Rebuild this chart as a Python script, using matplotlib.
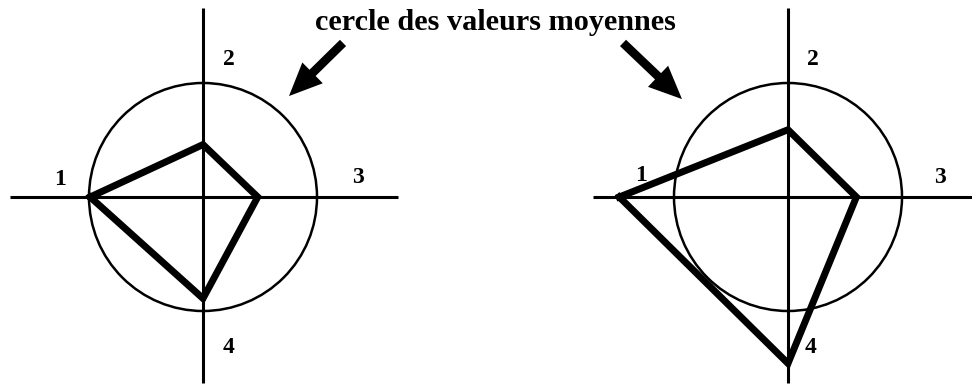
import matplotlib
matplotlib.use("Agg")
import matplotlib.pyplot as plt
import numpy as np
from matplotlib.patches import Circle, FancyArrowPatch

# Data: values on the 4 axes, in units of the mean value (circle radius = 1)
axis_labels = ["1", "2", "3", "4"]
left_values = [0.99, 0.46, 0.48, 0.89]
right_values = [1.48, 0.59, 0.60, 1.46]
annotation_text = "cercle des valeurs moyennes"

W, H = 972, 387
DPI = 100
fig = plt.figure(figsize=(W / DPI, H / DPI), dpi=DPI)
fig.patch.set_facecolor("white")

S = 114.0  # pixels per unit


def draw_diagram(x0, x1, cx, cy, values, xl, xr, yt, yb, label_pos):
    ax = fig.add_axes([x0 / W, 0, (x1 - x0) / W, 1])
    ax.set_xlim((x0 - cx) / S, (x1 - cx) / S)
    ax.set_ylim(-(H - cy) / S, cy / S)
    ax.axis("off")
    # axes lines
    ax.plot([xl, xr], [0, 0], color="black", lw=2.2, solid_capstyle="butt")
    ax.plot([0, 0], [yb, yt], color="black", lw=2.2, solid_capstyle="butt")
    # mean circle
    ax.add_patch(Circle((0, 0), 1.0, fill=False, ec="black", lw=1.8))
    # polygon: 1 = left, 2 = up, 3 = right, 4 = down
    angles = np.array([np.pi, np.pi / 2, 0, -np.pi / 2])
    v = np.array(values)
    xs = v * np.cos(angles)
    ys = v * np.sin(angles)
    xs = np.append(xs, xs[0])
    ys = np.append(ys, ys[0])
    ax.plot(xs, ys, color="black", lw=5.0, solid_joinstyle="miter")
    for lab, (lx, ly) in zip(axis_labels, label_pos):
        ax.text(lx, ly, lab, fontsize=17, family="Liberation Serif",
                weight="bold", ha="center", va="center")
    return ax


draw_diagram(0, 486, 203, 197, left_values, -1.69, 1.71, 1.66, -1.63,
             [(-1.25, 0.15), (0.23, 1.21), (1.36, 0.17), (0.22, -1.32)])
draw_diagram(486, 972, 788, 197, right_values, -1.71, 1.62, 1.66, -1.63,
             [(-1.29, 0.19), (0.22, 1.21), (1.33, 0.17), (0.20, -1.32)])

# annotation text and arrows (figure pixel coordinates)
fig.text(495 / W, 1 - 22 / H, annotation_text, fontsize=21.8,
         family="Liberation Serif", weight="bold", ha="center", va="center")

for (tx, ty), (hx, hy) in [((345, 41), (287, 98)), ((621, 41), (684, 101))]:
    arr = FancyArrowPatch((tx, H - ty), (hx, H - hy), transform=None,
                          arrowstyle="simple,head_length=1.7,head_width=1.5,tail_width=0.45",
                          mutation_scale=14, color="black", lw=0)
    fig.add_artist(arr)

fig.savefig("out.png", dpi=DPI, facecolor="white")
